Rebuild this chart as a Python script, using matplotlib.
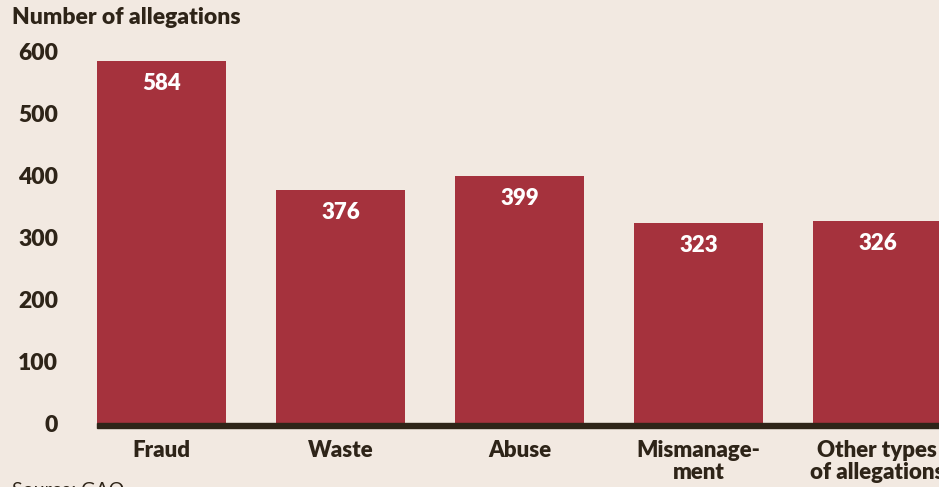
import matplotlib.pyplot as plt
import numpy as np

categories = ['Fraud', 'Waste', 'Abuse', 'Mismanage-\nment', 'Other types\nof allegations']
allegations = [584, 376, 399, 323, 326]
yticks = [0, 100, 200, 300, 400, 500, 600]

bg = '#f2e9e1'
bar_color = '#a5323d'
ink = '#2e2418'
weight = 'heavy'

plt.rcParams['font.family'] = ['Lato', 'DejaVu Sans']
plt.rcParams['font.weight'] = weight

fig = plt.figure(figsize=(9.39, 4.87), dpi=100, facecolor=bg)
ax = fig.add_axes([97 / 939, 64 / 487, 1 - 97 / 939, 372 / 487])
ax.set_facecolor(bg)

x = np.arange(len(categories))
ax.bar(x, allegations, width=0.72, color=bar_color, zorder=2)

# value labels inside the bars
for xi, v in zip(x, allegations):
    ax.annotate(str(v), (xi, v), xytext=(0, -23), textcoords='offset pixels',
                ha='center', va='center', color='white', fontsize=16, fontweight=weight)

# thick baseline
ax.axhspan(-8, 0, color=ink, zorder=3, clip_on=False)

ax.set_xlim(-0.36, 4.344)
ax.set_ylim(0, 600)
ax.set_yticks(yticks)
ax.set_xticks(x)
ax.set_xticklabels(categories, fontsize=16, fontweight=weight, color=ink, linespacing=1.05)
ax.tick_params(axis='both', length=0)
ax.tick_params(axis='x', pad=12)
ax.tick_params(axis='y', pad=28)
for lab in ax.get_yticklabels():
    lab.set_fontsize(16.5)
    lab.set_fontweight(weight)
    lab.set_color(ink)
for s in ax.spines.values():
    s.set_visible(False)

fig.text(12 / 939, 1 - 18 / 487, 'Number of allegations', ha='left', va='center',
         fontsize=16.5, fontweight=weight, color=ink)
fig.text(12 / 939, 5 / 487, 'Source: GAO', ha='left', va='top',
         fontsize=14, color=ink, fontweight='normal')

fig.savefig('out.png', dpi=100, facecolor=bg)
